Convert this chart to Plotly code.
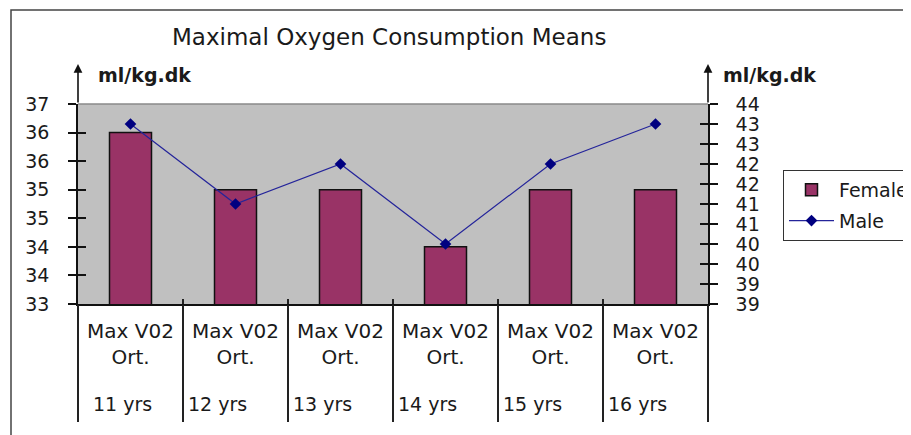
import plotly.graph_objects as go

# ---------------- data ----------------
categories = ["Max V02<br>Ort."] * 6
age_groups = ["11 yrs", "12 yrs", "13 yrs", "14 yrs", "15 yrs", "16 yrs"]
female = [36.0, 35.0, 35.0, 34.0, 35.0, 35.0]
male = [43.0, 41.0, 42.0, 40.0, 42.0, 43.0]
left_tick_vals = [33.0, 33.5, 34.0, 34.5, 35.0, 35.5, 36.0, 36.5]
left_tick_labels = ["33", "34", "34", "35", "35", "36", "36", "37"]
right_tick_vals = [38.5, 39.0, 39.5, 40.0, 40.5, 41.0, 41.5, 42.0, 42.5, 43.0, 43.5]
right_tick_labels = ["39", "39", "40", "40", "41", "41", "42", "42", "43", "43", "44"]
title_text = "Maximal Oxygen Consumption Means"
unit_text = "ml/kg.dk"

# ---------------- geometry / style ----------------
OFF = 8                      # default page body margin
W, H = 911 - OFF, 435 - OFF  # figure size so that it fits the window
PL, PR, PT, PB = 78, 708, 104, 304   # plot area in page pixels
L, R, T, B = PL - OFF, W - (PR - OFF), PT - OFF, H - (PB - OFF)
PW, PH = W - L - R, H - T - B
FONT = "DejaVu Sans"
TXT = "#1a1a1a"
idx = list(range(len(categories)))
bounds = [i - 0.5 for i in range(len(categories) + 1)]
xr = [-0.5, len(categories) - 0.5]
yl = [left_tick_vals[0], left_tick_vals[-1]]
yr = [right_tick_vals[0], right_tick_vals[-1]]


def px_x(p):
    """page pixel x -> paper coordinate"""
    return (p - PL) / PW


def px_y(p):
    """page pixel y -> paper coordinate"""
    return (PB - p) / PH


fig = go.Figure()
fig.add_trace(go.Bar(
    x=idx, y=female, name="Female", width=0.4,
    marker=dict(color="#993366", line=dict(color="#111111", width=1.5)),
    xaxis="x", yaxis="y", legendgroup="f",
))
fig.add_trace(go.Scatter(
    x=idx, y=male, name="Male", mode="lines+markers",
    line=dict(color="#24249a", width=1.2),
    marker=dict(symbol="diamond", size=9, color="#000080"),
    xaxis="x", yaxis="y2", legendgroup="m",
))
# invisible helpers so the overlay axes get drawn
for xa, ya in [("x2", "y"), ("x3", "y"), ("x", "y3"), ("x", "y4")]:
    fig.add_trace(go.Scatter(x=[None], y=[None], xaxis=xa, yaxis=ya,
                             showlegend=False, hoverinfo="skip"))

axis_common = dict(showgrid=False, zeroline=False, fixedrange=True)
fig.update_layout(
    width=W, height=H,
    margin=dict(l=L, r=R, t=T, b=B, autoexpand=False),
    paper_bgcolor="white", plot_bgcolor="#c0c0c0",
    font=dict(family=FONT, color=TXT, size=18),
    showlegend=True,
    legend=dict(x=px_x(783), y=px_y(170), xanchor="left", yanchor="top",
                bordercolor="#333333", borderwidth=1, bgcolor="white",
                font=dict(family=FONT, size=19, color=TXT),
                itemwidth=45,
                traceorder="grouped", tracegroupgap=3),
    xaxis=dict(range=xr, tickvals=idx, ticktext=categories, ticks="",
               showline=True, linecolor="#111111", linewidth=1.5,
               tickfont=dict(family=FONT, size=20, color=TXT),
               ticklabelstandoff=8, **axis_common),
    xaxis2=dict(range=xr, overlaying="x", anchor="y", side="bottom",
                tickvals=bounds, ticks="outside", ticklen=117, tickwidth=1.5,
                tickcolor="#222222", showticklabels=False, showline=False,
                **axis_common),
    xaxis3=dict(range=xr, overlaying="x", anchor="y", side="bottom",
                tickvals=bounds, ticks="inside", ticklen=5, tickwidth=1.5,
                tickcolor="#222222", showticklabels=False, showline=False,
                **axis_common),
    yaxis=dict(range=yl, tickvals=left_tick_vals, ticktext=left_tick_labels,
               ticks="outside", ticklen=8, tickwidth=1.5, tickcolor="#111111",
               showline=True, linecolor="#111111", linewidth=1.5,
               tickfont=dict(family=FONT, size=19, color=TXT),
               ticklabelstandoff=15, **axis_common),
    yaxis3=dict(range=yl, overlaying="y", anchor="x", side="left",
                tickvals=left_tick_vals, ticks="inside", ticklen=8, tickwidth=1.5,
                tickcolor="#111111", showticklabels=False, showline=False,
                **axis_common),
    yaxis2=dict(range=yr, overlaying="y", anchor="x", side="right",
                tickvals=right_tick_vals, ticktext=right_tick_labels,
                ticks="outside", ticklen=8, tickwidth=1.5, tickcolor="#111111",
                showline=True, linecolor="#111111", linewidth=1.5,
                tickfont=dict(family=FONT, size=19, color=TXT),
                ticklabelstandoff=14, **axis_common),
    yaxis4=dict(range=yr, overlaying="y", anchor="x", side="right",
                tickvals=right_tick_vals, ticks="inside", ticklen=8, tickwidth=1.5,
                tickcolor="#111111", showticklabels=False, showline=False,
                **axis_common),
)

annotations = [
    dict(text=title_text, xref="paper", yref="paper", x=px_x(389), y=px_y(37),
         xanchor="center", yanchor="middle", showarrow=False,
         font=dict(family=FONT, size=23, color=TXT)),
    dict(text="<b>" + unit_text + "</b>", xref="paper", yref="paper",
         x=px_x(96), y=px_y(75), xanchor="left", yanchor="middle", showarrow=False,
         font=dict(family=FONT, size=19, color=TXT)),
    dict(text="<b>" + unit_text + "</b>", xref="paper", yref="paper",
         x=px_x(721), y=px_y(75), xanchor="left", yanchor="middle", showarrow=False,
         font=dict(family=FONT, size=19, color=TXT)),
]
# axis arrows
for xp in (0, 1):
    annotations.append(dict(
        text="", xref="paper", yref="paper", x=xp, y=px_y(64),
        ax=0, ay=40, showarrow=True, arrowhead=2, arrowsize=1.1,
        arrowwidth=1.6, arrowcolor="#111111", standoff=0, startstandoff=0))
# age labels under each category
for i, g in enumerate(age_groups):
    annotations.append(dict(
        text=g, xref="x", yref="paper", x=bounds[i], y=px_y(404),
        xanchor="left", yanchor="middle", showarrow=False,
        xshift=13 if i == 0 else 3,
        font=dict(family=FONT, size=19, color=TXT)))
fig.update_layout(annotations=annotations)

fig.update_layout(shapes=[
    # outer chart frame
    dict(type="rect", xref="paper", yref="paper",
         x0=px_x(11), x1=px_x(911 + 20), y0=px_y(435 + 20), y1=px_y(10),
         line=dict(color="#444444", width=1.5), fillcolor="rgba(0,0,0,0)",
         layer="above"),
    # top edge of plot area
    dict(type="line", xref="paper", yref="paper", x0=0, x1=1, y0=1, y1=1,
         line=dict(color="#8a8a8a", width=1.5), layer="above"),
])

fig.write_html("out.html")
